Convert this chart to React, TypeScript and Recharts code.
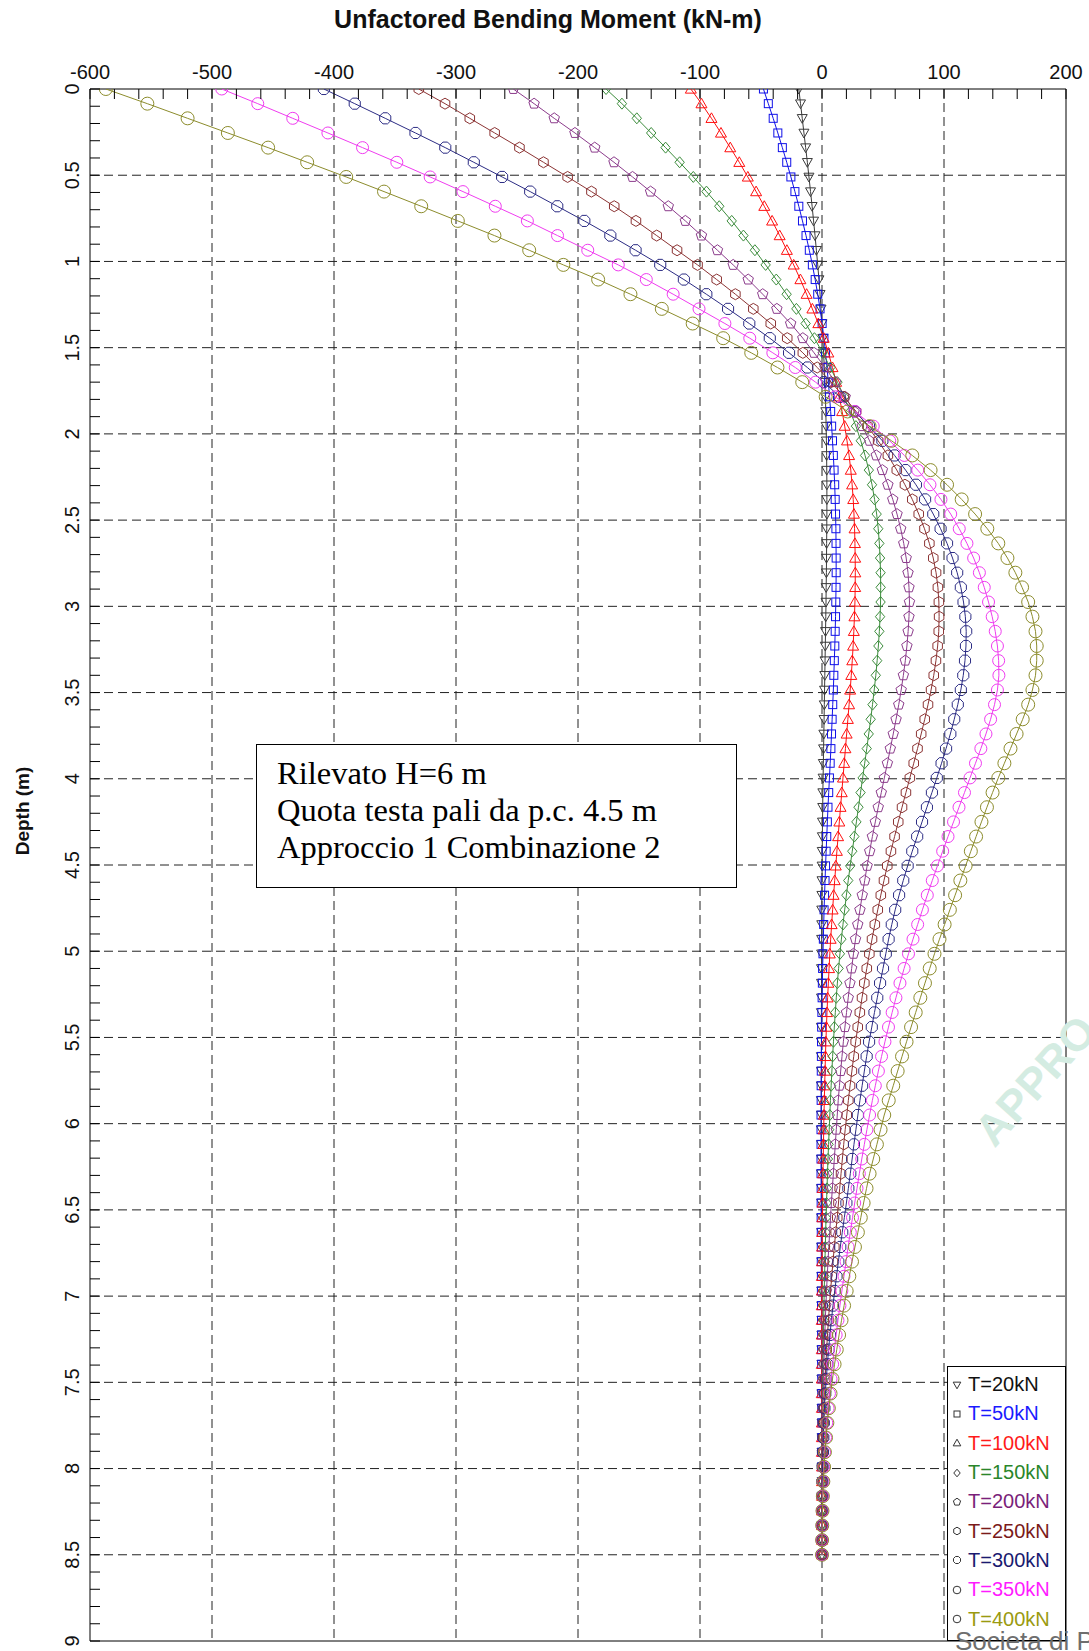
import React from 'react';
import { ScatterChart, Scatter, XAxis, YAxis, ReferenceLine } from 'recharts';

// depth of each computed section (m)
const depth = [
  0, 0.085, 0.17, 0.255, 0.34, 0.425, 0.51, 0.595, 0.68, 0.765,
  0.85, 0.935, 1.02, 1.105, 1.19, 1.275, 1.36, 1.445, 1.53, 1.615,
  1.7, 1.785, 1.87, 1.955, 2.04, 2.125, 2.21, 2.295, 2.38, 2.465,
  2.55, 2.635, 2.72, 2.805, 2.89, 2.975, 3.06, 3.145, 3.23, 3.315,
  3.4, 3.485, 3.57, 3.655, 3.74, 3.825, 3.91, 3.995, 4.08, 4.165,
  4.25, 4.335, 4.42, 4.505, 4.59, 4.675, 4.76, 4.845, 4.93, 5.015,
  5.1, 5.185, 5.27, 5.355, 5.44, 5.525, 5.61, 5.695, 5.78, 5.865,
  5.95, 6.035, 6.12, 6.205, 6.29, 6.375, 6.46, 6.545, 6.63, 6.715,
  6.8, 6.885, 6.97, 7.055, 7.14, 7.225, 7.31, 7.395, 7.48, 7.565,
  7.65, 7.735, 7.82, 7.905, 7.99, 8.075, 8.16, 8.245, 8.33, 8.415,
  8.5,
];

// bending moment (kN-m) per load case
const t20 = [
  -19, -17.6, -16.2, -14.8, -13.4, -12.0, -10.7, -9.4, -8.1, -6.9,
  -5.7, -4.6, -3.5, -2.5, -1.6, -0.8, 0, 0.7, 1.3, 1.9,
  2.4, 2.8, 3.1, 3.4, 3.6, 3.8, 3.9, 4.0, 4.0, 4.0,
  3.9, 3.8, 3.7, 3.6, 3.4, 3.3, 3.1, 2.9, 2.7, 2.5,
  2.3, 2.1, 1.9, 1.7, 1.5, 1.3, 1.1, 0.9, 0.7, 0.6,
  0.4, 0.3, 0.2, 0.1, 0, -0.1, -0.2, -0.2, -0.3, -0.3,
  -0.4, -0.4, -0.4, -0.5, -0.5, -0.5, -0.5, -0.5, -0.5, -0.5,
  -0.5, -0.5, -0.4, -0.4, -0.4, -0.4, -0.3, -0.3, -0.3, -0.3,
  -0.2, -0.2, -0.2, -0.2, -0.1, -0.1, -0.1, -0.1, -0.1, -0.1,
  0, 0, 0, 0, 0, 0, 0, 0, 0, 0, 0,
];

const t50 = [
  -48, -44, -40, -36.2, -32.5, -28.9, -25.5, -22.2, -19, -16,
  -13.1, -10.4, -7.9, -5.6, -3.5, -1.6, 0.1, 1.6, 2.9, 4.1,
  5.2, 6.2, 7.1, 7.9, 8.6, 9.3, 9.9, 10.4, 10.8, 11.1,
  11.4, 11.5, 11.6, 11.6, 11.5, 11.3, 11.1, 10.8, 10.5, 10.1,
  9.7, 9.3, 8.8, 8.3, 7.8, 7.3, 6.7, 6.1, 5.5, 4.9,
  4.4, 3.9, 3.4, 2.9, 2.5, 2.1, 1.7, 1.4, 1.1, 0.8,
  0.5, 0.3, 0.1, -0.1, -0.3, -0.4, -0.5, -0.6, -0.7, -0.7,
  -0.8, -0.8, -0.8, -0.8, -0.8, -0.7, -0.7, -0.7, -0.6, -0.6,
  -0.6, -0.5, -0.5, -0.4, -0.4, -0.3, -0.3, -0.3, -0.2, -0.2,
  -0.2, -0.1, -0.1, -0.1, -0.1, 0, 0, 0, 0, 0, 0,
];

const t100 = [
  -107.5, -98.8, -90.6, -82.8, -75.2, -67.8, -60.8, -54, -47.3, -40.9,
  -34.7, -28.8, -23.2, -17.7, -12.6, -7.9, -3, 1.4, 5.2, 8.6,
  11.6, 14.2, 16.5, 18.6, 20.5, 22.2, 23.6, 24.7, 25.6, 26.2,
  26.7, 27, 27.2, 27.3, 27.2, 27, 26.6, 26.1, 25.5, 24.8,
  24, 23.1, 22.2, 21.2, 20.2, 19.2, 18.2, 17.2, 16.2, 15.2,
  14.2, 13.2, 12.2, 11.3, 10.4, 9.5, 8.7, 7.9, 7.1, 6.4,
  5.8, 5.2, 4.6, 4.1, 3.6, 3.2, 2.8, 2.5, 2.2, 1.9,
  1.6, 1.4, 1.2, 1.0, 0.8, 0.6, 0.5, 0.3, 0.2, 0.1,
  0, -0.1, -0.1, -0.2, -0.2, -0.2, -0.2, -0.2, -0.2, -0.2,
  -0.1, -0.1, -0.1, -0.1, 0, 0, 0, 0, 0, 0, 0,
];

const t150 = [
  -177, -164, -151.8, -140, -128.2, -116.7, -105.5, -94.7, -84.2, -74,
  -64.4, -55, -46.2, -37.5, -29, -21, -13.4, -6.2, 0.5, 6.8,
  12.7, 18.2, 23.2, 27.8, 31.8, 35.3, 38.4, 41, 43.1, 44.8,
  46.1, 47, 47.6, 48, 48.1, 48, 47.6, 47, 46.2, 45.2,
  44.1, 42.8, 41.4, 39.9, 38.3, 36.7, 35, 33.3, 31.6, 29.9,
  28.2, 26.5, 24.8, 23.1, 21.5, 20, 18.6, 17.2, 15.9, 14.7,
  13.6, 12.6, 11.7, 10.9, 10.1, 9.4, 8.7, 8.1, 7.5, 6.9,
  6.4, 5.9, 5.4, 4.9, 4.5, 4.1, 3.7, 3.3, 3.0, 2.7,
  2.4, 2.1, 1.8, 1.6, 1.4, 1.2, 1.0, 0.8, 0.7, 0.5,
  0.4, 0.3, 0.2, 0.1, 0.1, 0, 0, 0, 0, 0, 0,
];

const t200 = [
  -253, -236, -219.5, -202.5, -186.3, -170.5, -155.3, -140.5, -126, -112,
  -98.8, -85.7, -72.8, -60.5, -48.6, -37, -25.7, -15.7, -6.5, 2.5,
  11, 19, 26.3, 33, 39, 44.5, 49.5, 54, 58, 61.5,
  64.5, 67, 69, 70.5, 71.3, 71.7, 71.3, 70.6, 69.6, 68.3,
  66.7, 64.9, 62.9, 60.7, 58.4, 56, 53.6, 51.1, 48.6, 46.1,
  43.7, 41.3, 39.1, 37, 35, 33, 31.1, 29.3, 27.5, 25.8,
  24.3, 22.9, 21.5, 20.1, 18.8, 17.5, 16.4, 15.3, 14.3, 13.3,
  12.5, 11.7, 10.9, 10.1, 9.3, 8.5, 7.7, 7.0, 6.3, 5.6,
  4.9, 4.3, 3.7, 3.2, 2.7, 2.3, 1.9, 1.6, 1.3, 1.0,
  0.8, 0.6, 0.4, 0.3, 0.2, 0.1, 0, 0, 0, 0, 0,
];

const t250 = [
  -330.5, -309, -288.7, -268.3, -248, -228.3, -208.5, -189, -170.3, -152.5,
  -135.5, -118.8, -102, -86.3, -71, -56.3, -42, -28.5, -15.7, -3.9,
  7.5, 18, 28, 37.3, 46, 54, 61.3, 68, 74, 79.3,
  84, 88, 91.2, 93.5, 95, 95.8, 96, 95.7, 94.8, 93.4,
  91.6, 89.4, 86.9, 84.2, 81.3, 78.3, 75.2, 72, 68.8, 65.6,
  62.5, 59.5, 56.5, 53.5, 50.8, 48.2, 45.7, 43.3, 41, 38.8,
  36.7, 34.7, 32.8, 31, 29.3, 27.6, 26, 24.5, 23, 21.6,
  20.3, 19, 17.8, 16.7, 15.6, 14.5, 13.5, 12.5, 11.2, 10.1,
  9, 8, 7, 6.1, 5.3, 4.5, 3.8, 3.2, 2.6, 2.1,
  1.7, 1.3, 1.0, 0.7, 0.5, 0.3, 0.2, 0.1, 0, 0, 0,
];

const t300 = [
  -408.3, -383, -358, -333.2, -308.8, -285.4, -262.2, -239.2, -217, -194.8,
  -173.5, -152.8, -132.6, -113.2, -94.8, -77, -59.6, -42.8, -27, -12,
  1.5, 14.5, 27, 38.5, 49.5, 59.5, 68.5, 77, 84.5, 91.2,
  97.2, 102.5, 107, 110.8, 113.8, 116, 117.5, 118.2, 118, 117.2,
  115.8, 113.8, 111.3, 108.4, 105.2, 101.7, 98, 94.1, 90.1, 86,
  82, 78, 74, 70.2, 66.6, 63.2, 60, 57.2, 54.6, 52.3,
  50, 47.6, 45.3, 43, 40.8, 38.6, 36.6, 34.7, 32.9, 31.1,
  29.4, 27.8, 26.2, 24.7, 23.2, 21.6, 20, 18.3, 16.6, 15,
  13.4, 11.9, 10.4, 9, 7.7, 6.5, 5.4, 4.4, 3.5, 2.7,
  2.0, 1.5, 1.1, 0.8, 0.5, 0.3, 0.2, 0.1, 0, 0, 0,
];

const t350 = [
  -492, -462.5, -433.8, -405, -376.6, -348.5, -321.2, -294.3, -267.8, -241.5,
  -216.8, -192, -167, -144, -122, -100.8, -79.6, -59.2, -40.3, -21.9,
  -5.3, 11, 27, 42, 55.5, 67.5, 78.5, 88.5, 97.5, 105.5,
  112.5, 118.8, 124.3, 129, 133, 136.5, 139.5, 142, 143.8, 144.8,
  145, 143.8, 141.4, 138.2, 134.4, 130.2, 125.8, 121.3, 116.8, 112.3,
  107.8, 103.3, 98.9, 94.6, 90.4, 86.3, 82.3, 78.4, 74.6, 70.9,
  67.3, 63.9, 60.6, 57.5, 54.5, 51.6, 48.8, 46.2, 43.7, 41.3,
  39, 36.8, 34.7, 32.6, 30.6, 28.7, 26.8, 25, 23.2, 21.4,
  19.7, 18, 16.3, 14.7, 13.1, 11.6, 10.1, 8.7, 7.4, 6.1,
  5.0, 3.9, 2.9, 2.1, 1.4, 0.9, 0.5, 0.3, 0.1, 0, 0,
];

const t400 = [
  -587, -553, -520, -487, -454, -422, -390, -359, -328.5, -298.5,
  -268.5, -240, -212, -183.5, -157, -131.3, -106, -81, -58, -36.5,
  -16.2, 3, 21, 39, 57, 74, 89, 102.5, 114.5, 125.5,
  135.5, 144.5, 152, 158.5, 164, 169, 172.5, 175, 176, 176,
  175, 172.5, 169, 164.5, 159.5, 154.5, 149.5, 144.5, 139.8, 135.2,
  130.7, 126.3, 122, 117.7, 113.4, 109.1, 104.8, 100.5, 96.3, 92.2,
  88.3, 84.4, 80.6, 76.8, 73, 69.3, 65.6, 62, 58.4, 54.7,
  51, 48, 45, 42, 39, 36.5, 34.1, 31.8, 29.4, 27,
  24.6, 22.4, 20.2, 18.1, 16, 14, 12.1, 10.3, 8.6, 7,
  5.6, 4.4, 3.3, 2.4, 1.7, 1.1, 0.7, 0.4, 0.2, 0.1, 0,
];

const xMajorTicks = [-600, -500, -400, -300, -200, -100, 0, 100, 200];
const yMajorTicks = [0, 0.5, 1, 1.5, 2, 2.5, 3, 3.5, 4, 4.5, 5, 5.5, 6, 6.5, 7, 7.5, 8, 8.5, 9];
const xGrid = [-500, -400, -300, -200, -100, 0, 100];
const yGrid = [0.5, 1, 1.5, 2, 2.5, 3, 3.5, 4, 4.5, 5, 5.5, 6, 6.5, 7, 7.5, 8, 8.5];

// minor ticks every 20 kN-m and every 0.1 m
const xTicks: number[] = [];
for (let v = -600; v <= 200; v += 20) xTicks.push(v);
const yTicks: number[] = [];
for (let i = 0; i <= 90; i++) yTicks.push(i / 10);

const SANS = '"Liberation Sans", Arial, Helvetica, sans-serif';
const SERIF = '"Liberation Serif", "Times New Roman", serif';

type ShapeName = 'triDown' | 'square' | 'triUp' | 'diamond' | 'pentagon' | 'hexagon' | 'octagon' | 'circle';

const series: { name: string; values: number[]; color: string; text: string; shape: ShapeName; r: number }[] = [
  { name: 'T=20kN', values: t20, color: '#3a3a3a', text: '#111111', shape: 'triDown', r: 5 },
  { name: 'T=50kN', values: t50, color: '#1010e8', text: '#1a1aff', shape: 'square', r: 4 },
  { name: 'T=100kN', values: t100, color: '#ff1010', text: '#ff1a1a', shape: 'triUp', r: 5.5 },
  { name: 'T=150kN', values: t150, color: '#3c8c3c', text: '#2a862a', shape: 'diamond', r: 5.5 },
  { name: 'T=200kN', values: t200, color: '#8c3c8c', text: '#7a1f7a', shape: 'pentagon', r: 5.5 },
  { name: 'T=250kN', values: t250, color: '#8c3434', text: '#7a1a1a', shape: 'hexagon', r: 5.5 },
  { name: 'T=300kN', values: t300, color: '#2c2c84', text: '#1a1a70', shape: 'octagon', r: 6 },
  { name: 'T=350kN', values: t350, color: '#f03cf0', text: '#ff1aff', shape: 'circle', r: 6 },
  { name: 'T=400kN', values: t400, color: '#8c8c2c', text: '#9a9a10', shape: 'circle', r: 6.5 },
];

function poly(cx: number, cy: number, r: number, n: number, start: number) {
  const pts: string[] = [];
  for (let i = 0; i < n; i++) {
    const a = start + (i * 2 * Math.PI) / n;
    pts.push(`${cx + r * Math.cos(a)},${cy + r * Math.sin(a)}`);
  }
  return pts.join(' ');
}

function Marker({ shape, cx, cy, r, color }: { shape: ShapeName; cx: number; cy: number; r: number; color: string }) {
  const common = { fill: 'none', stroke: color, strokeWidth: 1 };
  switch (shape) {
    case 'triDown':
      return <polygon points={`${cx - r},${cy - r * 0.75} ${cx + r},${cy - r * 0.75} ${cx},${cy + r}`} {...common} />;
    case 'square':
      return <rect x={cx - r} y={cy - r} width={2 * r} height={2 * r} {...common} />;
    case 'triUp':
      return <polygon points={`${cx},${cy - r} ${cx + r},${cy + r * 0.75} ${cx - r},${cy + r * 0.75}`} {...common} />;
    case 'diamond':
      return <polygon points={`${cx},${cy - r} ${cx + r * 0.85},${cy} ${cx},${cy + r} ${cx - r * 0.85},${cy}`} {...common} />;
    case 'pentagon':
      return <polygon points={poly(cx, cy, r, 5, -Math.PI / 2)} {...common} />;
    case 'hexagon':
      return <polygon points={poly(cx, cy, r, 6, -Math.PI / 2)} {...common} />;
    case 'octagon':
      return <polygon points={poly(cx, cy, r, 8, Math.PI / 8)} {...common} />;
    default:
      return <circle cx={cx} cy={cy} r={r} {...common} />;
  }
}

function TopTick(props: any) {
  const { x, y, payload } = props;
  const v = payload.value as number;
  const major = xMajorTicks.includes(v);
  return (
    <g>
      <line x1={x} y1={y} x2={x} y2={y + 10} stroke="#000" />
      {major && (
        <text x={x} y={y - 10} textAnchor="middle" fontSize={20} fontFamily={SANS} fill="#111">
          {v}
        </text>
      )}
    </g>
  );
}

function LeftTick(props: any) {
  const { x, y, payload } = props;
  const v = payload.value as number;
  const major = yMajorTicks.some((t) => Math.abs(t - v) < 1e-6);
  return (
    <g>
      <line x1={x} y1={y} x2={x + 10} y2={y} stroke="#000" />
      {major && (
        <text
          transform={`translate(${x - 11},${y}) rotate(-90)`}
          textAnchor="middle"
          fontSize={20}
          fontFamily={SANS}
          fill="#111"
        >
          {String(v)}
        </text>
      )}
    </g>
  );
}

export default function App() {
  return (
    <div
      style={{
        position: 'absolute',
        left: 0,
        top: 0,
        width: 1089,
        height: 1651,
        overflow: 'hidden',
        background: '#ffffff',
      }}
    >
      <div
        style={{
          position: 'absolute',
          left: 548,
          top: 19,
          transform: 'translate(-50%, -50%)',
          whiteSpace: 'nowrap',
          fontFamily: SANS,
          fontWeight: 'bold',
          fontSize: 25,
          color: '#111',
        }}
      >
        Unfactored Bending Moment (kN-m)
      </div>

      <div
        style={{
          position: 'absolute',
          left: 23,
          top: 811,
          transform: 'translate(-50%, -50%) rotate(-90deg)',
          whiteSpace: 'nowrap',
          fontFamily: SANS,
          fontWeight: 'bold',
          fontSize: 19,
          color: '#111',
        }}
      >
        Depth (m)
      </div>

      <ScatterChart width={1089} height={1651} margin={{ top: 49, right: 23, bottom: 10, left: 50 }}>
        <XAxis
          type="number"
          dataKey="m"
          orientation="top"
          domain={[-600, 200]}
          ticks={xTicks}
          interval={0}
          tick={TopTick}
          tickLine={false}
          tickSize={0}
          tickMargin={0}
          height={40}
          axisLine={{ stroke: '#000' }}
          allowDataOverflow
        />
        <YAxis
          type="number"
          dataKey="d"
          domain={[0, 9]}
          reversed
          ticks={yTicks}
          interval={0}
          tick={LeftTick}
          tickLine={false}
          tickSize={0}
          tickMargin={0}
          width={40}
          axisLine={{ stroke: '#000' }}
          allowDataOverflow
        />
        {xGrid.map((v) => (
          <ReferenceLine key={'gx' + v} x={v} stroke="#222" strokeDasharray="9 5" />
        ))}
        {yGrid.map((v) => (
          <ReferenceLine key={'gy' + v} y={v} stroke="#222" strokeDasharray="9 5" />
        ))}
        <ReferenceLine x={200} stroke="#000" ifOverflow="visible" />
        <ReferenceLine y={9} stroke="#000" ifOverflow="visible" />
        {series.map((s) => (
          <Scatter
            key={s.name}
            name={s.name}
            data={s.values.map((m, i) => ({ m, d: depth[i] }))}
            fill="none"
            line={{ stroke: s.color, strokeWidth: 1 }}
            lineType="joint"
            shape={(p: any) => <Marker shape={s.shape} cx={p.cx} cy={p.cy} r={s.r} color={s.color} />}
            isAnimationActive={false}
          />
        ))}
      </ScatterChart>

      <div
        style={{
          position: 'absolute',
          left: 256,
          top: 744,
          width: 481,
          height: 144,
          boxSizing: 'border-box',
          border: '1.5px solid #000',
          background: '#fff',
          padding: '10px 0 0 20px',
          fontFamily: SERIF,
          fontSize: 32.5,
          lineHeight: '37px',
          color: '#000',
          whiteSpace: 'nowrap',
        }}
      >
        <div>Rilevato H=6 m</div>
        <div>Quota testa pali da p.c. 4.5 m</div>
        <div>Approccio 1 Combinazione 2</div>
      </div>

      <div
        style={{
          position: 'absolute',
          left: 947,
          top: 1366,
          width: 119,
          height: 275,
          boxSizing: 'border-box',
          border: '1px solid #000',
          background: '#fff',
          paddingTop: 3,
        }}
      >
        {series.map((s) => (
          <div key={s.name} style={{ display: 'flex', alignItems: 'center', height: 29.3 }}>
            <svg width={20} height={14} style={{ flex: 'none' }}>
              <Marker shape={s.shape} cx={9} cy={7} r={s.shape === 'square' ? 3 : 3.8} color="#333" />
            </svg>
            <span style={{ fontFamily: SANS, fontSize: 20, color: s.text, whiteSpace: 'nowrap' }}>{s.name}</span>
          </div>
        ))}
      </div>

      <div
        style={{
          position: 'absolute',
          left: 967,
          top: 1168,
          transform: 'rotate(-48deg)',
          transformOrigin: '0 0',
          fontFamily: SANS,
          fontWeight: 'bold',
          fontSize: 44,
          lineHeight: '44px',
          color: '#d4ece2',
          whiteSpace: 'nowrap',
          marginTop: -44,
        }}
      >
        APPRO
      </div>

      <div
        style={{
          position: 'absolute',
          left: 955,
          top: 1626,
          fontFamily: SANS,
          fontSize: 26,
          color: '#6e6e6e',
          whiteSpace: 'nowrap',
        }}
      >
        Societa di P
      </div>
    </div>
  );
}
